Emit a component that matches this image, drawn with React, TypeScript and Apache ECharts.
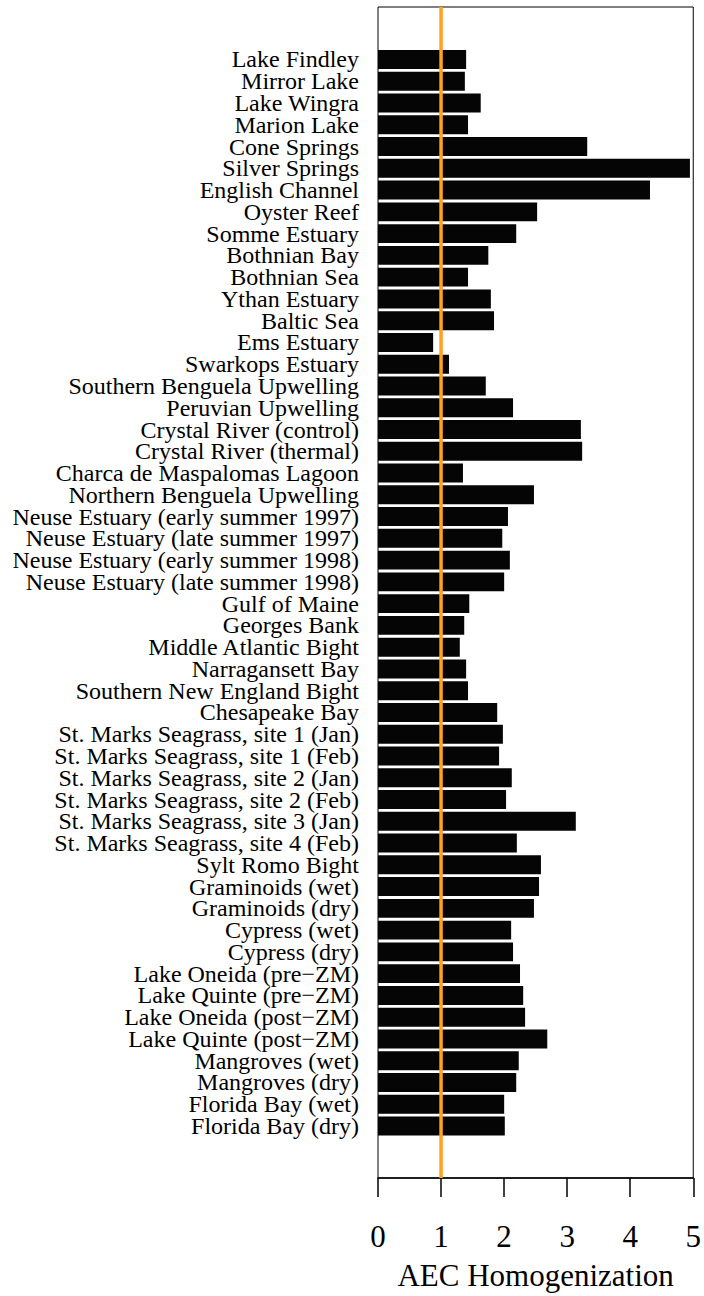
import React, { useEffect, useRef } from "react";
import * as echarts from "echarts";

const categories: string[] = [
  "Lake Findley",
  "Mirror Lake",
  "Lake Wingra",
  "Marion Lake",
  "Cone Springs",
  "Silver Springs",
  "English Channel",
  "Oyster Reef",
  "Somme Estuary",
  "Bothnian Bay",
  "Bothnian Sea",
  "Ythan Estuary",
  "Baltic Sea",
  "Ems Estuary",
  "Swarkops Estuary",
  "Southern Benguela Upwelling",
  "Peruvian Upwelling",
  "Crystal River (control)",
  "Crystal River (thermal)",
  "Charca de Maspalomas Lagoon",
  "Northern Benguela Upwelling",
  "Neuse Estuary (early summer 1997)",
  "Neuse Estuary (late summer 1997)",
  "Neuse Estuary (early summer 1998)",
  "Neuse Estuary (late summer 1998)",
  "Gulf of Maine",
  "Georges Bank",
  "Middle Atlantic Bight",
  "Narragansett Bay",
  "Southern New England Bight",
  "Chesapeake Bay",
  "St. Marks Seagrass, site 1 (Jan)",
  "St. Marks Seagrass, site 1 (Feb)",
  "St. Marks Seagrass, site 2 (Jan)",
  "St. Marks Seagrass, site 2 (Feb)",
  "St. Marks Seagrass, site 3 (Jan)",
  "St. Marks Seagrass, site 4 (Feb)",
  "Sylt Romo Bight",
  "Graminoids (wet)",
  "Graminoids (dry)",
  "Cypress (wet)",
  "Cypress (dry)",
  "Lake Oneida (pre\u2212ZM)",
  "Lake Quinte (pre\u2212ZM)",
  "Lake Oneida (post\u2212ZM)",
  "Lake Quinte (post\u2212ZM)",
  "Mangroves (wet)",
  "Mangroves (dry)",
  "Florida Bay (wet)",
  "Florida Bay (dry)",
];

const homogenization: number[] = [
  1.39, 1.37, 1.62, 1.42, 3.3, 4.92, 4.29, 2.51, 2.18, 1.74,
  1.42, 1.78, 1.83, 0.87, 1.12, 1.7, 2.13, 3.2, 3.22, 1.34,
  2.46, 2.05, 1.96, 2.08, 1.99, 1.44, 1.36, 1.29, 1.39, 1.42,
  1.88, 1.97, 1.91, 2.11, 2.02, 3.12, 2.19, 2.57, 2.54, 2.46,
  2.1, 2.13, 2.24, 2.29, 2.32, 2.67, 2.22, 2.18, 1.99, 2.0,
];

const xTicks: number[] = [0, 1, 2, 3, 4, 5];
const referenceValue = 1;
const axisTitle = "AEC Homogenization";

const FONT = "'Liberation Serif', 'Times New Roman', serif";

export default function App() {
  const ref = useRef<HTMLDivElement>(null);

  useEffect(() => {
    if (!ref.current) return;
    const chart = echarts.init(ref.current, undefined, { renderer: "svg" });
    const xMin = xTicks[0];
    const xMax = xTicks[xTicks.length - 1];
    chart.setOption({
      animation: false,
      backgroundColor: "#ffffff",
      grid: [
        { left: 378, width: 317, top: 48.6, height: 1088.3, containLabel: false },
        {
          left: 378,
          width: 317,
          top: 7,
          height: 1172,
          show: true,
          borderColor: "#000",
          borderWidth: 1,
          backgroundColor: "transparent",
          containLabel: false,
        },
      ],
      xAxis: [
        {
          type: "value",
          gridIndex: 0,
          min: xMin,
          max: xMax,
          show: false,
        },
        {
          type: "value",
          gridIndex: 1,
          min: xMin,
          max: xMax,
          interval: 1,
          position: "bottom",
          axisLine: { show: true, lineStyle: { color: "#000", width: 1.5 } },
          axisTick: { show: true, inside: false, length: 19, lineStyle: { color: "#000", width: 1.5 } },
          axisLabel: {
            show: true,
            margin: 43,
            fontSize: 31,
            fontFamily: FONT,
            color: "#000",
            formatter: (v: number) => String(v),
          },
          splitLine: { show: false },
          name: axisTitle,
          nameLocation: "middle",
          nameGap: 82,
          nameTextStyle: { fontSize: 31, fontFamily: FONT, color: "#000" },
        },
      ],
      yAxis: [
        {
          type: "category",
          gridIndex: 0,
          data: categories,
          inverse: true,
          axisLine: { show: false },
          axisTick: { show: false },
          splitLine: { show: false },
          axisLabel: {
            show: true,
            interval: 0,
            margin: 19,
            fontSize: 24,
            lineHeight: 20,
            fontFamily: FONT,
            color: "#000",
          },
        },
        {
          type: "value",
          gridIndex: 1,
          min: 0,
          max: 1,
          show: false,
        },
      ],
      series: [
        {
          type: "bar",
          xAxisIndex: 0,
          yAxisIndex: 0,
          data: homogenization,
          barCategoryGap: "13%",
          itemStyle: { color: "#050505" },
          z: 2,
        },
        {
          type: "line",
          xAxisIndex: 1,
          yAxisIndex: 1,
          data: [
            [referenceValue, 0],
            [referenceValue, 1],
          ],
          symbol: "none",
          lineStyle: { color: "#FFA21F", width: 3.5 },
          z: 5,
          silent: true,
        },
      ],
    });
    return () => chart.dispose();
  }, []);

  return (
    <div
      ref={ref}
      style={{ position: "absolute", left: 0, top: 0, width: 704, height: 1296 }}
    />
  );
}
